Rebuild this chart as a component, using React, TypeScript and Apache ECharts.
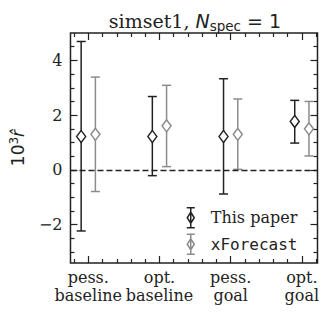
import React, { useEffect, useRef } from "react";
import * as echarts from "echarts";

const CATEGORIES = ["pess.\nbaseline", "opt.\nbaseline", "pess.\ngoal", "opt.\ngoal"];
const X_MAJOR = [0, 1, 2, 3];
const X_MINOR = [-0.2, 0.2, 0.4, 0.6, 0.8, 1.2, 1.4, 1.6, 1.8, 2.2, 2.4, 2.6, 2.8, 3.2];
const Y_MAJOR = [-2, 0, 2, 4];
const Y_MINOR = [-3, -2.5, -1.5, -1, -0.5, 0.5, 1, 1.5, 2.5, 3, 3.5, 4.5];

const PAPER_MID = [1.22, 1.22, 1.22, 1.77];
const PAPER_LO = [-2.23, -0.21, -0.88, 0.98];
const PAPER_HI = [4.69, 2.68, 3.33, 2.54];

const XF_MID = [1.3, 1.61, 1.3, 1.5];
const XF_LO = [-0.79, 0.12, 0.02, 0.51];
const XF_HI = [3.39, 3.09, 2.59, 2.5];

const BLACK = "#222222";
const GRAY = "#8c8c8c";
const SERIF = "DejaVu Serif";
const SANS = "DejaVu Sans";
const MONO = "DejaVu Sans Mono";

const OFFSET = 0.1;
const DIAMOND = "path://M0,-5 L4,0 L0,5 L-4,0 Z";
const LEGEND_ICON = "path://M5,0 L5,20 M1,0 L9,0 M1,20 L9,20 M5,4.5 L8.5,10 L5,15.5 L1.5,10 Z";

function fmtY(v: number) {
  return v < 0 ? "\u2212" + Math.abs(v) : String(v);
}

function errBar(color: string) {
  return (params: any, api: any) => {
    const x = api.value(0);
    const lo = api.value(1);
    const hi = api.value(2);
    const p1 = api.coord([x, hi]);
    const p2 = api.coord([x, lo]);
    const w = 4.5;
    const st = { stroke: color, lineWidth: 1.5, fill: "none" };
    return {
      type: "group",
      children: [
        { type: "line", shape: { x1: p1[0], y1: p1[1], x2: p2[0], y2: p2[1] }, style: st },
        { type: "line", shape: { x1: p1[0] - w, y1: p1[1], x2: p1[0] + w, y2: p1[1] }, style: st },
        { type: "line", shape: { x1: p2[0] - w, y1: p2[1], x2: p2[0] + w, y2: p2[1] }, style: st },
      ],
    };
  };
}

export default function App() {
  const ref = useRef<HTMLDivElement>(null);
  useEffect(() => {
    if (!ref.current) return;
    const chart = echarts.init(ref.current, null, { renderer: "svg" });
    const xMin = -0.25;
    const xMax = 3.22;
    const yMin = -3.4;
    const yMax = 5.0;
    const baseX = {
      type: "value",
      min: xMin,
      max: xMax,
      axisLine: { show: false, onZero: false },
      splitLine: { show: false },
    };
    const baseY = {
      type: "value",
      min: yMin,
      max: yMax,
      axisLine: { show: false, onZero: false },
      splitLine: { show: false },
    };
    const tick = (vals: number[], len: number) => ({
      show: true,
      inside: true,
      length: len,
      customValues: vals,
      lineStyle: { color: BLACK, width: 1.2 },
    });
    const paperErr = X_MAJOR.map((c, i) => [c - OFFSET, PAPER_LO[i], PAPER_HI[i]]);
    const xfErr = X_MAJOR.map((c, i) => [c + OFFSET, XF_LO[i], XF_HI[i]]);
    const paperPts = X_MAJOR.map((c, i) => [c - OFFSET, PAPER_MID[i]]);
    const xfPts = X_MAJOR.map((c, i) => [c + OFFSET, XF_MID[i]]);

    chart.setOption({
      animation: false,
      title: {
        text: "{s|simset1, }{n|N}{sub|spec}{eq| = 1}",
        left: 190,
        textAlign: "center",
        top: 3,
        textStyle: {
          fontWeight: "normal",
          rich: {
            s: { fontFamily: SERIF, fontWeight: "normal", fontSize: 19, color: BLACK, lineHeight: 26 },
            n: { fontFamily: SANS, fontWeight: "normal", fontStyle: "italic", fontSize: 19, color: BLACK, lineHeight: 26 },
            sub: { fontFamily: SANS, fontWeight: "normal", fontSize: 13.5, color: BLACK, lineHeight: 26, padding: [9, 0, 0, 0] },
            eq: { fontFamily: SANS, fontWeight: "normal", fontSize: 19, color: BLACK, lineHeight: 26 },
          },
        },
      },
      grid: {
        left: 63,
        right: 13.5,
        top: 33,
        bottom: 52,
        show: true,
        borderColor: BLACK,
        borderWidth: 1.5,
        backgroundColor: "transparent",
      },
      legend: {
        orient: "vertical",
        left: 181,
        top: 202,
        itemWidth: 10,
        itemHeight: 20,
        itemGap: 5,
        data: [
          { name: "This paper", icon: LEGEND_ICON, itemStyle: { color: "#fff", borderColor: BLACK, borderWidth: 1.5 } },
          { name: "xForecast", icon: LEGEND_ICON, itemStyle: { color: "#fff", borderColor: GRAY, borderWidth: 1.5 } },
        ],
        formatter: (n: string) => (n === "xForecast" ? `{mono|${n}}` : `{serif|${n}}`),
        textStyle: {
          rich: {
            serif: { fontFamily: SERIF, fontSize: 16, color: BLACK, padding: [0, 0, 0, 10] },
            mono: { fontFamily: MONO, fontSize: 16, color: BLACK, padding: [0, 0, 0, 10] },
          },
        },
      },
      xAxis: [
        {
          ...baseX,
          position: "bottom",
          axisTick: tick(X_MAJOR, 7),
          axisLabel: {
            customValues: X_MAJOR,
            formatter: (v: number) => CATEGORIES[Math.round(v)] ?? "",
            fontFamily: SERIF,
            fontSize: 16,
            color: BLACK,
            lineHeight: 18,
            margin: 5,
          },
        },
        { ...baseX, position: "bottom", axisTick: tick(X_MINOR, 4), axisLabel: { show: false } },
        { ...baseX, position: "top", axisTick: tick(X_MAJOR, 7), axisLabel: { show: false } },
        { ...baseX, position: "top", axisTick: tick(X_MINOR, 4), axisLabel: { show: false } },
      ],
      yAxis: [
        {
          ...baseY,
          position: "left",
          axisTick: tick(Y_MAJOR, 7),
          axisLabel: {
            customValues: Y_MAJOR,
            formatter: fmtY,
            fontFamily: SERIF,
            fontSize: 16,
            color: BLACK,
            margin: 8,
          },
          name: "{a|10}{sup|3}{r|r\u0302}",
          nameLocation: "middle",
          nameRotate: 90,
          nameGap: 35,
          nameTextStyle: {
            rich: {
              a: { fontFamily: SANS, fontSize: 17, color: BLACK, lineHeight: 22 },
              sup: { fontFamily: SANS, fontSize: 12, color: BLACK, lineHeight: 22, padding: [0, 0, 8, 0] },
              r: { fontFamily: SANS, fontStyle: "italic", fontSize: 17, color: BLACK, lineHeight: 22 },
            },
          },
        },
        { ...baseY, position: "left", axisTick: tick(Y_MINOR, 4), axisLabel: { show: false } },
        { ...baseY, position: "right", axisTick: tick(Y_MAJOR, 7), axisLabel: { show: false } },
        { ...baseY, position: "right", axisTick: tick(Y_MINOR, 4), axisLabel: { show: false } },
      ],
      series: [
        {
          name: "paperErr",
          type: "custom",
          xAxisIndex: 0,
          yAxisIndex: 0,
          renderItem: errBar(BLACK),
          encode: { x: 0, y: [1, 2] },
          data: paperErr,
          z: 3,
          markLine: {
            silent: true,
            symbol: "none",
            label: { show: false },
            lineStyle: { color: BLACK, width: 1.3, type: [6, 3] },
            data: [{ yAxis: 0 }],
          },
        },
        {
          name: "xfErr",
          type: "custom",
          xAxisIndex: 0,
          yAxisIndex: 0,
          renderItem: errBar(GRAY),
          encode: { x: 0, y: [1, 2] },
          data: xfErr,
          z: 3,
        },
        {
          name: "This paper",
          type: "scatter",
          xAxisIndex: 0,
          yAxisIndex: 0,
          symbol: DIAMOND,
          symbolSize: [9, 12],
          itemStyle: { color: "#fff", borderColor: BLACK, borderWidth: 1.5, opacity: 1 },
          data: paperPts,
          z: 5,
        },
        {
          name: "xForecast",
          type: "scatter",
          xAxisIndex: 0,
          yAxisIndex: 0,
          symbol: DIAMOND,
          symbolSize: [9, 12],
          itemStyle: { color: "#fff", borderColor: GRAY, borderWidth: 1.5, opacity: 1 },
          data: xfPts,
          z: 5,
        },
      ],
    });
    return () => chart.dispose();
  }, []);
  return (
    <div
      ref={ref}
      style={{ position: "fixed", left: 0, top: 0, width: 331, height: 315, background: "#fff" }}
    />
  );
}
